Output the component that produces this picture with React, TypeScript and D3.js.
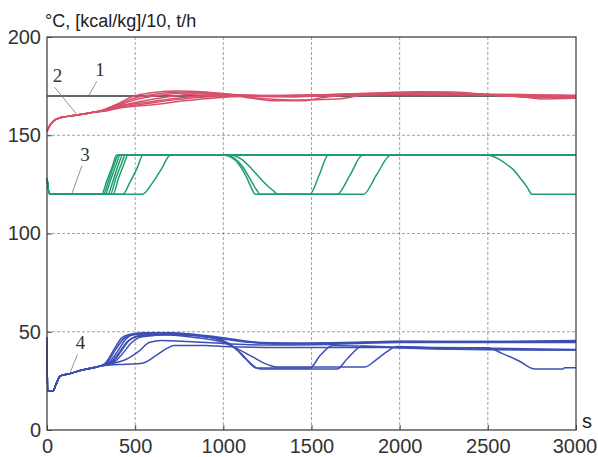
import React, { useEffect, useRef } from 'react';
import * as d3 from 'd3';

type Pt = [number, number];

// axis ticks
const xTicks = [0, 500, 1000, 1500, 2000, 2500, 3000];
const yTicks = [0, 50, 100, 150, 200];

// 1 - setpoint
const setpoint: Pt[] = [[0, 170], [3000, 170]];

// 2 - temperature runs
const temp1: Pt[] = [[0, 152], [10, 154], [40, 157.5], [80, 159], [150, 160], [250, 161.5], [320, 163], [400, 166], [480, 169.5], [580, 171.5], [730, 172.5], [900, 172], [1050, 170.8], [1300, 170.2], [1600, 170.8], [1800, 171.3], [2100, 172.2], [2300, 172], [2550, 170.3], [2750, 169.8], [3000, 170]];
const temp2: Pt[] = [[0, 152], [10, 154], [40, 157.5], [80, 159], [150, 160], [250, 161.5], [320, 162.8], [400, 165.5], [500, 169], [620, 171], [760, 172], [950, 171.5], [1150, 170], [1400, 169.5], [1700, 171], [2000, 171.5], [2400, 171], [2600, 170], [2800, 169.5], [3000, 169.5]];
const temp3: Pt[] = [[0, 152], [10, 154], [40, 157.5], [80, 159], [150, 160], [250, 161.5], [320, 162.6], [400, 165], [500, 168], [650, 170.5], [800, 171.5], [1000, 171], [1150, 169], [1300, 167.5], [1450, 167.5], [1550, 169], [1700, 170.5], [2200, 171.5], [2600, 170.2], [3000, 170]];
const temp4: Pt[] = [[0, 152], [10, 154], [40, 157.5], [80, 159], [150, 160], [250, 161.5], [320, 162.5], [400, 164.5], [520, 167], [680, 169.5], [850, 171], [1050, 170.5], [1200, 168.8], [1400, 168], [1650, 168.5], [1800, 170.5], [2100, 171.2], [2550, 170.2], [2700, 169.5], [2800, 168.5], [3000, 168.8]];
const temp5: Pt[] = [[0, 152], [10, 154], [40, 157.5], [80, 159], [150, 160], [250, 161.5], [320, 162.5], [400, 164.5], [540, 166.5], [700, 168.5], [870, 170], [1050, 170.5], [1300, 170], [1700, 170.5], [2200, 171.8], [2600, 170.5], [3000, 170.3]];
const temp6: Pt[] = [[0, 152], [10, 154], [40, 157.5], [80, 159], [150, 160], [250, 161.5], [320, 162.3], [400, 164], [560, 166], [720, 168], [900, 169.5], [1100, 170], [1500, 170.3], [1950, 171], [2400, 171], [3000, 170]];
const temp7: Pt[] = [[0, 152], [10, 154], [40, 157.5], [80, 159], [150, 160], [250, 161.5], [320, 162.2], [420, 164], [600, 165.5], [780, 167.5], [950, 169], [1150, 169.8], [1400, 170], [1900, 170.8], [2500, 170.5], [2800, 169.3], [3000, 169.2]];

// 3 - enthalpy / 10 runs
const enth1: Pt[] = [[0, 128], [15, 120], [310, 120], [340, 127], [370, 134], [395, 140], [3000, 140]];
const enth2: Pt[] = [[0, 128], [15, 120], [320, 120], [350, 127], [380, 135], [405, 140], [995, 140], [1040, 139], [1090, 135], [1130, 129], [1160, 123], [1180, 120], [1490, 120], [1545, 130], [1595, 140], [3000, 140]];
const enth3: Pt[] = [[0, 128], [15, 120], [330, 120], [360, 127], [392, 135], [415, 140], [1010, 140], [1060, 138.5], [1110, 134], [1150, 128], [1190, 122], [1210, 120], [1645, 120], [1720, 130], [1790, 140], [3000, 140]];
const enth4: Pt[] = [[0, 128], [15, 120], [345, 120], [375, 127], [405, 135], [430, 140], [1040, 140], [1100, 138], [1160, 133], [1220, 127], [1280, 122], [1310, 120], [1795, 120], [1870, 130], [1950, 140], [2495, 140], [2560, 138], [2610, 135], [2650, 132], [2685, 128], [2720, 124], [2750, 120], [3000, 120]];
const enth5: Pt[] = [[0, 128], [15, 120], [360, 120], [390, 128], [420, 135], [445, 140], [3000, 140]];
const enth6: Pt[] = [[0, 128], [15, 120], [375, 120], [405, 128], [435, 135], [460, 140], [3000, 140]];
const enth7: Pt[] = [[0, 128], [15, 120], [430, 120], [470, 126], [510, 133], [545, 140], [3000, 140]];
const enth8: Pt[] = [[0, 128], [15, 120], [540, 120], [600, 126], [650, 133], [700, 140], [3000, 140]];

// 4 - flow runs
const flow1: Pt[] = [[0, 47], [3, 20], [35, 20], [50, 23], [75, 27.5], [120, 28.5], [200, 30.5], [300, 32.5], [330, 34], [380, 41], [420, 46.5], [460, 48.5], [550, 49.5], [700, 49.5], [850, 48.5], [1000, 47], [1150, 45], [1300, 43.8], [1600, 44], [2000, 45.2], [2500, 45], [3000, 45.5]];
const flow2: Pt[] = [[0, 47], [3, 20], [35, 20], [50, 23], [75, 27.5], [120, 28.5], [200, 30.5], [300, 32.5], [340, 34.2], [390, 41], [430, 46], [480, 48.5], [600, 49.2], [750, 49], [900, 47.5], [1000, 45.5], [1100, 39], [1190, 31.5], [1490, 31.5], [1550, 38], [1620, 43], [1800, 42.5], [2100, 41.5], [2500, 41], [3000, 40.7]];
const flow3: Pt[] = [[0, 47], [3, 20], [35, 20], [50, 23], [75, 27.5], [120, 28.5], [200, 30.5], [300, 32.5], [350, 34.3], [400, 40], [440, 45.5], [490, 48.5], [620, 49], [800, 48.5], [950, 46.5], [1050, 43], [1130, 36], [1210, 31], [1645, 31], [1700, 36], [1790, 42.8], [2000, 42], [2400, 41], [3000, 40.7]];
const flow4: Pt[] = [[0, 47], [3, 20], [35, 20], [50, 23], [75, 27.5], [120, 28.5], [200, 30.5], [300, 32.5], [360, 34.3], [410, 39.5], [450, 44.5], [510, 47.5], [650, 48.5], [850, 47], [1000, 44.5], [1150, 38], [1260, 33], [1310, 32], [1800, 32], [1870, 36], [1930, 40], [1985, 42.5], [2200, 42], [2500, 41.8], [2580, 39], [2680, 35], [2767, 31], [2926, 31], [2935, 31.7], [3000, 31.7]];
const flow5: Pt[] = [[0, 47], [3, 20], [35, 20], [50, 23], [75, 27.5], [120, 28.5], [200, 30.5], [300, 32.5], [370, 34.5], [420, 40], [460, 45], [520, 48], [650, 49], [800, 48.5], [1000, 46.5], [1200, 44.5], [1500, 44.2], [2000, 45], [3000, 45]];
const flow6: Pt[] = [[0, 47], [3, 20], [35, 20], [50, 23], [75, 27.5], [120, 28.5], [200, 30.5], [300, 32.5], [380, 34.5], [430, 39], [480, 44.5], [540, 47.5], [700, 48.5], [900, 47.5], [1100, 45], [1300, 44], [2000, 44.7], [3000, 44.8]];
const flow7: Pt[] = [[0, 47], [3, 20], [35, 20], [50, 23], [75, 27.5], [120, 28.5], [200, 30.5], [300, 32.5], [400, 34.5], [450, 36], [520, 40], [580, 44.5], [650, 45.5], [800, 45], [1000, 44], [1250, 43.2], [1600, 43.5], [2000, 44.5], [3000, 44.5]];
const flow8: Pt[] = [[0, 47], [3, 20], [35, 20], [50, 23], [75, 27.5], [120, 28.5], [200, 30.5], [300, 32.5], [450, 33.5], [540, 34], [620, 38], [680, 41.5], [720, 43], [900, 43], [1000, 42.5], [1300, 42], [2000, 42], [3000, 41]];

const tempRuns = [temp1, temp2, temp3, temp4, temp5, temp6, temp7];
const enthRuns = [enth1, enth2, enth3, enth4, enth5, enth6, enth7, enth8];
const flowRuns = [flow1, flow2, flow3, flow4, flow5, flow6, flow7, flow8];

// curve number labels: [label, text t, text value, leader end t, leader end value]
const curveLabels: [string, number, number, number, number][] = [
  ['1', 300, 180, 235, 170],
  ['2', 60, 177, 165, 161],
  ['3', 215, 137, 140, 120],
  ['4', 190, 41, 130, 29],
];

const App = () => {
  const ref = useRef<SVGSVGElement>(null);

  useEffect(() => {
    document.body.style.margin = '0';
    const svg = d3.select(ref.current);
    svg.selectAll('*').remove();

    const x = d3.scaleLinear().domain([0, 3000]).range([47, 576]);
    const y = d3.scaleLinear().domain([0, 200]).range([430, 37]);

    const line = d3
      .line<Pt>()
      .x((d) => x(d[0]))
      .y((d) => y(d[1]))
      .curve(d3.curveMonotoneX);

    svg.append('rect').attr('width', 598).attr('height', 457).attr('fill', 'white');

    // grid
    const grid = svg.append('g').attr('stroke', '#8a8a8a').attr('stroke-width', 0.8).attr('stroke-dasharray', '3,2');
    grid
      .selectAll('line.v')
      .data(xTicks.slice(1, -1))
      .enter()
      .append('line')
      .attr('x1', (d) => x(d))
      .attr('x2', (d) => x(d))
      .attr('y1', y(0))
      .attr('y2', y(200));
    grid
      .selectAll('line.h')
      .data(yTicks.slice(1, -1))
      .enter()
      .append('line')
      .attr('x1', x(0))
      .attr('x2', x(3000))
      .attr('y1', (d) => y(d))
      .attr('y2', (d) => y(d));

    const plot = svg.append('g').attr('fill', 'none').attr('stroke-width', 1.5).attr('stroke-linejoin', 'round');

    plot.append('path').datum(setpoint).attr('d', line).attr('stroke', '#333').attr('stroke-width', 1.6);

    plot
      .selectAll('path.temp')
      .data(tempRuns)
      .enter()
      .append('path')
      .attr('d', line)
      .attr('stroke', '#d9506b');

    plot
      .selectAll('path.enth')
      .data(enthRuns)
      .enter()
      .append('path')
      .attr('d', line)
      .attr('stroke', '#1f9e6c');

    plot
      .selectAll('path.flow')
      .data(flowRuns)
      .enter()
      .append('path')
      .attr('d', line)
      .attr('stroke', '#3c4fb5');

    // frame
    svg
      .append('rect')
      .attr('x', x(0))
      .attr('y', y(200))
      .attr('width', x(3000) - x(0))
      .attr('height', y(0) - y(200))
      .attr('fill', 'none')
      .attr('stroke', '#444')
      .attr('stroke-width', 1.3);

    // ticks
    const xAxis = svg.append('g').attr('transform', `translate(0,${y(0)})`);
    xAxis
      .call(d3.axisBottom(x).tickValues(xTicks).tickSize(-5).tickPadding(9).tickFormat(d3.format('d')))
      .call((g) => g.select('.domain').remove())
      .call((g) => g.selectAll('line').attr('stroke', '#444'))
      .selectAll('text')
      .attr('font-family', 'Liberation Sans, Arial, sans-serif')
      .attr('font-size', 20)
      .attr('fill', '#333')
      .attr('dx', (d) => (d === 3000 ? -1.5 : 0));

    const yAxis = svg.append('g').attr('transform', `translate(${x(0)},0)`);
    yAxis
      .call(d3.axisLeft(y).tickValues(yTicks).tickSize(-5).tickPadding(6))
      .call((g) => g.select('.domain').remove())
      .call((g) => g.selectAll('line').attr('stroke', '#444'))
      .selectAll('text')
      .attr('font-family', 'Liberation Sans, Arial, sans-serif')
      .attr('font-size', 20)
      .attr('fill', '#333');

    svg
      .append('text')
      .attr('x', 45)
      .attr('y', 27)
      .attr('font-family', 'Liberation Sans, Arial, sans-serif')
      .attr('font-size', 18)
      .attr('fill', '#222')
      .text('°C, [kcal/kg]/10, t/h');

    svg
      .append('text')
      .attr('x', 587)
      .attr('y', 428)
      .attr('text-anchor', 'middle')
      .attr('font-family', 'Liberation Sans, Arial, sans-serif')
      .attr('font-size', 20)
      .attr('fill', '#222')
      .text('s');

    // curve labels with leaders
    const lab = svg.append('g');
    lab
      .selectAll('line')
      .data(curveLabels)
      .enter()
      .append('line')
      .attr('x1', (d) => x(d[1]) - 3)
      .attr('y1', (d) => y(d[2]) + 5)
      .attr('x2', (d) => x(d[3]))
      .attr('y2', (d) => y(d[4]))
      .attr('stroke', '#777')
      .attr('stroke-width', 0.8);
    lab
      .selectAll('text')
      .data(curveLabels)
      .enter()
      .append('text')
      .attr('x', (d) => x(d[1]))
      .attr('y', (d) => y(d[2]))
      .attr('text-anchor', 'middle')
      .attr('font-family', 'Liberation Serif, Times New Roman, serif')
      .attr('font-size', 19)
      .attr('fill', '#333')
      .text((d) => d[0]);
  }, []);

  return <svg ref={ref} width={598} height={457} style={{ display: 'block' }} />;
};

export default App;
